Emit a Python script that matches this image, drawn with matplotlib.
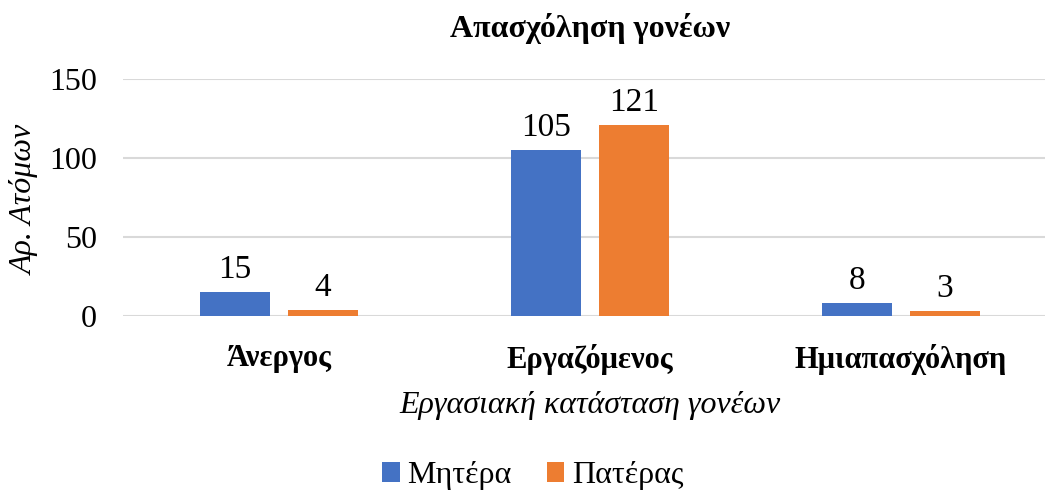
import matplotlib
matplotlib.use('Agg')
import matplotlib.pyplot as plt
import numpy as np

categories = ['Άνεργος', 'Εργαζόμενος', 'Ημιαπασχόληση']
mother = [15, 105, 8]
father = [4, 121, 3]
series_names = ['Μητέρα', 'Πατέρας']
y_ticks = [0, 50, 100, 150]

BLUE, ORANGE, GRID, INK = '#4472C4', '#ED7D31', '#D9D9D9', '#000000'
plt.rcParams['font.family'] = ['Liberation Serif', 'DejaVu Serif']

fig = plt.figure(figsize=(10.45, 4.93), dpi=100)
# plot area runs slightly past the right edge, as in the reference
ax = fig.add_axes([0.118, 0.359, 0.893, 0.481])

x = np.arange(len(categories))
w, off = 0.225, 0.1415
b1 = ax.bar(x - off, mother, w, color=BLUE, label=series_names[0], zorder=3)
b2 = ax.bar(x + off, father, w, color=ORANGE, label=series_names[1], zorder=3)
for bars in (b1, b2):
    ax.bar_label(bars, padding=5, fontsize=24, color=INK)

ax.set_xlim(-0.5, len(categories) - 0.5)
ax.set_ylim(0, 150)
ax.set_yticks(y_ticks)
ax.set_xticks(x)
ax.set_xticklabels(categories, fontsize=22, fontweight='bold')
ax.tick_params(axis='y', labelsize=23, length=0, pad=19)
ax.tick_params(axis='x', length=0, pad=20)
ax.grid(axis='y', color=GRID, lw=1.5, zorder=0)
for s in ax.spines.values():
    s.set_visible(False)

ax.set_title('Απασχόληση γονέων', fontsize=23, fontweight='bold', pad=30)
ax.set_ylabel('Αρ. Ατόμων', fontsize=23, style='italic', va='center')
ax.yaxis.set_label_coords(-0.105, 0.49)
ax.set_xlabel('Εργασιακή κατάσταση γονέων', fontsize=23, style='italic', labelpad=12)

fig.legend(loc='center', bbox_to_anchor=(0.51, 0.035), ncol=2, frameon=False,
           fontsize=23, handlelength=0.55, handleheight=0.55, handletextpad=0.25,
           columnspacing=1.1)

fig.savefig('out.png')
